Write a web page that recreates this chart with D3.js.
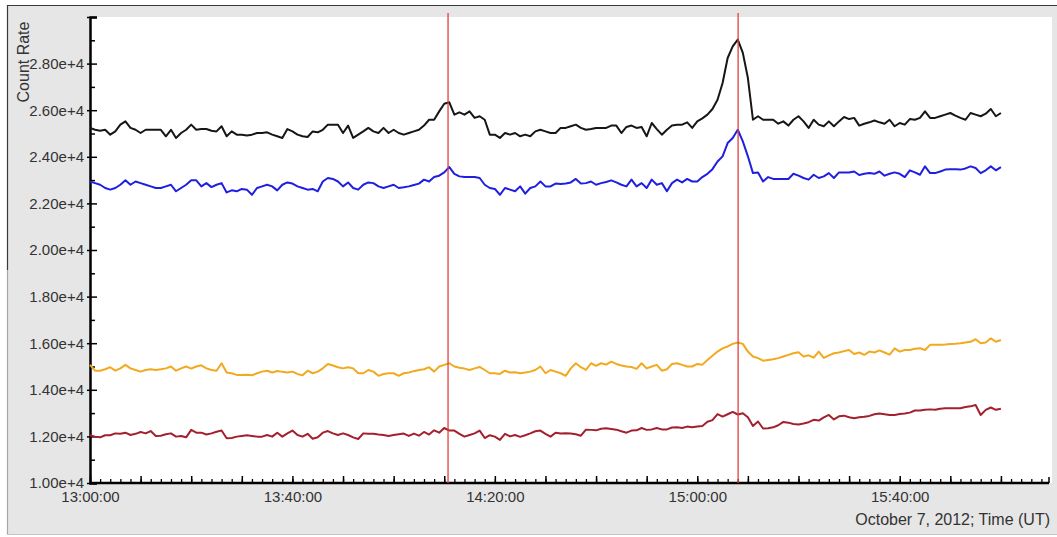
<!DOCTYPE html>
<html>
<head>
<meta charset="utf-8">
<script src="https://cdn.jsdelivr.net/npm/d3@7"></script>
<style>
  body { margin: 0; background: #fff; }
  svg { display: block; font-family: "Liberation Sans", Arial, sans-serif; }
  .axis path, .axis line { stroke: #000; }
  .axis text { fill: #333; font-size: 15px; }
</style>
</head>
<body>
<div id="chart"></div>
<script>
// one sample per minute starting at 13:00 UT
const startTime = "13:00:00";
const endTime = "16:09:30";

const black = [
  25240,25160,25120,25160,24950,25090,25380,25520,25240,25160,
  25020,25160,25160,25160,25160,24880,25160,24810,25020,25160,
  25380,25160,25190,25190,25120,25090,25310,24880,25090,24950,
  24950,24910,24950,25020,25020,25050,24950,24880,24810,25190,
  25090,24950,24880,24850,25090,25050,25160,25380,25380,25380,
  25020,25340,24810,24950,25090,25240,25090,25020,25240,25020,
  25160,25020,24950,25020,25090,25160,25340,25590,25590,25950,
  26280,26340,25810,25910,25810,25950,25670,25740,25590,24950,
  24950,24810,25020,24950,25020,24880,24950,24880,25090,25160,
  25090,25020,25020,25240,25240,25310,25380,25240,25160,25190,
  25240,25240,25240,25340,25340,25020,25280,25340,25240,25280,
  24880,25450,25190,24950,25160,25340,25380,25380,25480,25240,
  25520,25650,25810,26050,26450,27170,28240,28740,29030,28460,
  27380,25590,25740,25590,25590,25590,25420,25520,25340,25590,
  25740,25520,25240,25590,25380,25310,25520,25310,25520,25710,
  25620,25670,25340,25420,25480,25560,25480,25420,25590,25310,
  25450,25380,25620,25590,25670,25950,25670,25670,25740,25810,
  25880,25770,25670,25590,25880,25810,25740,25850,26050,25740,
  25880
];

const blue = [
  22940,22870,22800,22660,22590,22660,22800,22990,22800,22940,
  22870,22800,22730,22660,22660,22730,22800,22520,22660,22800,
  22990,22990,22730,22870,22700,22800,22870,22470,22560,22520,
  22620,22590,22370,22660,22730,22800,22730,22560,22800,22900,
  22850,22730,22660,22590,22620,22520,22940,23090,23050,22940,
  22730,22900,22660,22590,22800,22900,22870,22730,22660,22730,
  22800,22660,22690,22730,22790,22850,23020,22940,23130,23190,
  23330,23560,23270,23160,23130,23130,23130,23090,22800,22660,
  22620,22370,22660,22590,22520,22730,22420,22660,22730,22940,
  22730,22730,22850,22830,22850,22900,23050,22850,22870,22940,
  22800,22870,22920,22990,22900,22800,22730,23020,22730,22870,
  22660,23020,22800,22870,22520,22870,23020,22900,23050,22940,
  22940,23130,23270,23470,23800,24020,24590,24810,25160,24660,
  24020,23300,23330,22940,23130,23050,23050,23050,23050,23270,
  23190,23090,23020,23230,23090,23160,23300,23090,23330,23330,
  23330,23370,23220,23270,23300,23270,23370,23190,23270,23330,
  23270,23130,23420,23330,23230,23590,23300,23300,23370,23450,
  23470,23470,23450,23500,23590,23520,23300,23420,23590,23420,
  23560
];

const orange = [
  15070,14820,14820,14880,14970,14820,14920,15070,14920,14850,
  14780,14850,14880,14850,14880,14920,15000,14820,14920,15000,
  14910,15000,15050,14920,14850,14820,15140,14740,14710,14640,
  14640,14650,14620,14710,14780,14820,14740,14810,14770,14740,
  14780,14680,14620,14820,14710,14780,14920,15110,15040,14970,
  14920,14970,14920,14710,14710,14850,14780,14600,14680,14710,
  14710,14600,14710,14740,14800,14850,14880,14970,14780,15000,
  15070,15140,15000,14950,14910,14850,14920,14980,14850,14710,
  14710,14680,14820,14740,14750,14710,14740,14780,14850,15000,
  14710,14850,14780,14710,14600,14920,15140,14970,14850,15140,
  15030,15140,15080,15210,15110,15040,15000,14980,14900,15140,
  14920,15000,15070,14820,14880,15110,15140,15070,15000,15000,
  15110,15080,15280,15460,15640,15780,15860,15970,16030,15970,
  15640,15430,15360,15250,15280,15310,15360,15430,15500,15570,
  15610,15430,15480,15380,15640,15370,15480,15570,15600,15660,
  15710,15540,15600,15500,15640,15600,15690,15600,15510,15780,
  15640,15710,15710,15760,15780,15710,15930,15930,15930,15940,
  15970,15980,16000,16030,16060,16170,16000,16030,16210,16060,
  16140
];

const darkRed = [
  12050,11990,11960,12050,12050,12130,12110,12160,12060,12110,
  12190,12130,12230,12020,12030,12090,12130,11990,12020,11960,
  12280,12160,12160,12080,12130,12200,12250,11920,11930,11990,
  12020,12050,12020,11990,11990,12060,11990,12160,11990,12130,
  12250,12060,11990,12110,11900,11960,12160,12230,12130,12060,
  12130,12060,11960,11890,12130,12110,12110,12080,12060,12020,
  12060,12090,12120,12020,12120,12030,12190,12080,12260,12160,
  12360,12250,12250,12110,11990,12060,12130,12250,11930,12050,
  11990,11850,12110,12000,12060,11980,12050,12130,12220,12250,
  12110,11990,12160,12120,12130,12120,12090,12030,12290,12280,
  12260,12330,12350,12320,12290,12220,12160,12250,12260,12360,
  12280,12300,12360,12300,12300,12380,12390,12360,12420,12390,
  12420,12450,12630,12700,12960,12850,12950,13050,12940,12990,
  12820,12450,12640,12340,12350,12390,12480,12620,12590,12530,
  12510,12550,12610,12710,12680,12820,12920,12730,12860,12890,
  12820,12780,12820,12840,12880,12950,12980,12950,12920,12920,
  12960,12980,13020,13110,13110,13140,13160,13140,13190,13210,
  13210,13210,13210,13260,13290,13350,12920,13140,13240,13140,
  13190
];

// red marker lines
const eventTimes = ["14:10:45", "15:08:04"];

const yTickValues = [10000, 12000, 14000, 16000, 18000, 20000, 22000, 24000, 26000, 28000];
const xLabelTimes = ["13:00:00", "13:40:00", "14:20:00", "15:00:00", "15:40:00"];

const yTitle = "Count Rate";
const xTitle = "October 7, 2012; Time (UT)";

const series = [
  { name: "black", values: black, color: "#161616" },
  { name: "blue", values: blue, color: "#1f1fe0" },
  { name: "orange", values: orange, color: "#f2a91e" },
  { name: "darkred", values: darkRed, color: "#a3202d" }
];

const parseT = d3.timeParse("%Y-%m-%d %H:%M:%S");
function toDate(s) { return parseT("2012-10-07 " + s); }

const W = 1057, H = 537;
const plotLeft = 90, plotRight = 1049, plotTop = 17, plotBottom = 483;

const svg = d3.select("#chart").append("svg")
  .attr("width", W)
  .attr("height", H);

// grey frame
svg.append("rect")
  .attr("x", 7).attr("y", 5)
  .attr("width", W - 7).attr("height", 530)
  .attr("fill", "#e6e6e6");
svg.append("line").attr("x1", 7).attr("x2", W).attr("y1", 5.5).attr("y2", 5.5)
  .attr("stroke", "#3a3a3a").attr("stroke-width", 1.2);
svg.append("line").attr("x1", 7.5).attr("x2", 7.5).attr("y1", 5).attr("y2", 270)
  .attr("stroke", "#3a3a3a").attr("stroke-width", 1.2);
svg.append("line").attr("x1", 7.5).attr("x2", 7.5).attr("y1", 270).attr("y2", 535)
  .attr("stroke", "#a8a8a8").attr("stroke-width", 1.2);
svg.append("line").attr("x1", 7).attr("x2", W).attr("y1", 534.5).attr("y2", 534.5)
  .attr("stroke", "#c4c4c4").attr("stroke-width", 1);

// white plot area
svg.append("rect")
  .attr("x", plotLeft).attr("y", plotTop)
  .attr("width", 1052 - plotLeft).attr("height", plotBottom - plotTop)
  .attr("fill", "#fff");

const x = d3.scaleTime()
  .domain([toDate(startTime), toDate(endTime)])
  .range([plotLeft, plotRight]);

const y = d3.scaleLinear()
  .domain([10000, 30000])
  .range([plotBottom, plotTop]);

// minor y ticks
const yMinor = d3.range(11000, 30000, 2000);
svg.append("g")
  .attr("class", "axis")
  .attr("transform", "translate(" + plotLeft + ",0)")
  .call(d3.axisLeft(y).tickValues(yMinor).tickSize(-5).tickFormat(""))
  .call(g => g.select(".domain").remove())
  .selectAll("line").attr("stroke-width", 1.5);

// major y ticks with labels
const yAxis = svg.append("g")
  .attr("class", "axis")
  .attr("transform", "translate(" + plotLeft + ",0)")
  .call(d3.axisLeft(y)
    .tickValues(yTickValues.concat([30000]))
    .tickSize(-7)
    .tickPadding(6)
    .tickFormat(d => d === 30000 ? "" : (d / 10000).toFixed(2) + "e+4"));
yAxis.select(".domain").attr("stroke-width", 2.5);
yAxis.selectAll(".tick line").attr("x1", -3).attr("x2", 7).attr("stroke-width", 1.5);

// x ticks: minor every 2 min, major every 10 min
const t0 = toDate(startTime), t1 = toDate(endTime);
const xMinor = d3.timeMinute.every(2).range(t0, t1);
const xMajor = d3.timeMinute.every(10).range(t0, t1);
const labelSet = new Set(xLabelTimes);
const fmt = d3.timeFormat("%H:%M:%S");

svg.append("g")
  .attr("class", "axis")
  .attr("transform", "translate(0," + plotBottom + ")")
  .call(d3.axisBottom(x).tickValues(xMinor).tickSize(-4).tickFormat(""))
  .call(g => g.select(".domain").remove())
  .selectAll("line").attr("stroke-width", 1.3);

const xAxis = svg.append("g")
  .attr("class", "axis")
  .attr("transform", "translate(0," + plotBottom + ")")
  .call(d3.axisBottom(x)
    .tickValues(xMajor)
    .tickSize(-7)
    .tickPadding(8)
    .tickFormat(d => labelSet.has(fmt(d)) ? fmt(d) : ""));
xAxis.select(".domain").attr("d", "M" + plotLeft + ",0H" + plotRight).attr("stroke-width", 2.5);
xAxis.selectAll(".tick line").attr("stroke-width", 1.5);
// end cap tick
xAxis.append("line")
  .attr("x1", plotRight).attr("x2", plotRight).attr("y1", 0).attr("y2", -6)
  .attr("stroke", "#000").attr("stroke-width", 1.5);

// series lines
const line = d3.line()
  .x((d, i) => x(d3.timeMinute.offset(t0, i)))
  .y(d => y(d));

svg.append("g").selectAll("path")
  .data(series)
  .enter().append("path")
  .attr("d", d => line(d.values))
  .attr("fill", "none")
  .attr("stroke", d => d.color)
  .attr("stroke-width", 2)
  .attr("stroke-linejoin", "round");

// event markers
svg.append("g").selectAll("line")
  .data(eventTimes)
  .enter().append("line")
  .attr("x1", d => x(toDate(d)))
  .attr("x2", d => x(toDate(d)))
  .attr("y1", plotTop - 4)
  .attr("y2", plotBottom)
  .attr("stroke", "#e0403c")
  .attr("stroke-width", 1.3);

// titles
svg.append("text")
  .attr("transform", "translate(29,62) rotate(-90)")
  .attr("text-anchor", "middle")
  .attr("fill", "#333")
  .style("font-size", "16px")
  .text(yTitle);

svg.append("text")
  .attr("x", 1050)
  .attr("y", 525)
  .attr("text-anchor", "end")
  .attr("fill", "#333")
  .style("font-size", "16px")
  .text(xTitle);
</script>
</body>
</html>
